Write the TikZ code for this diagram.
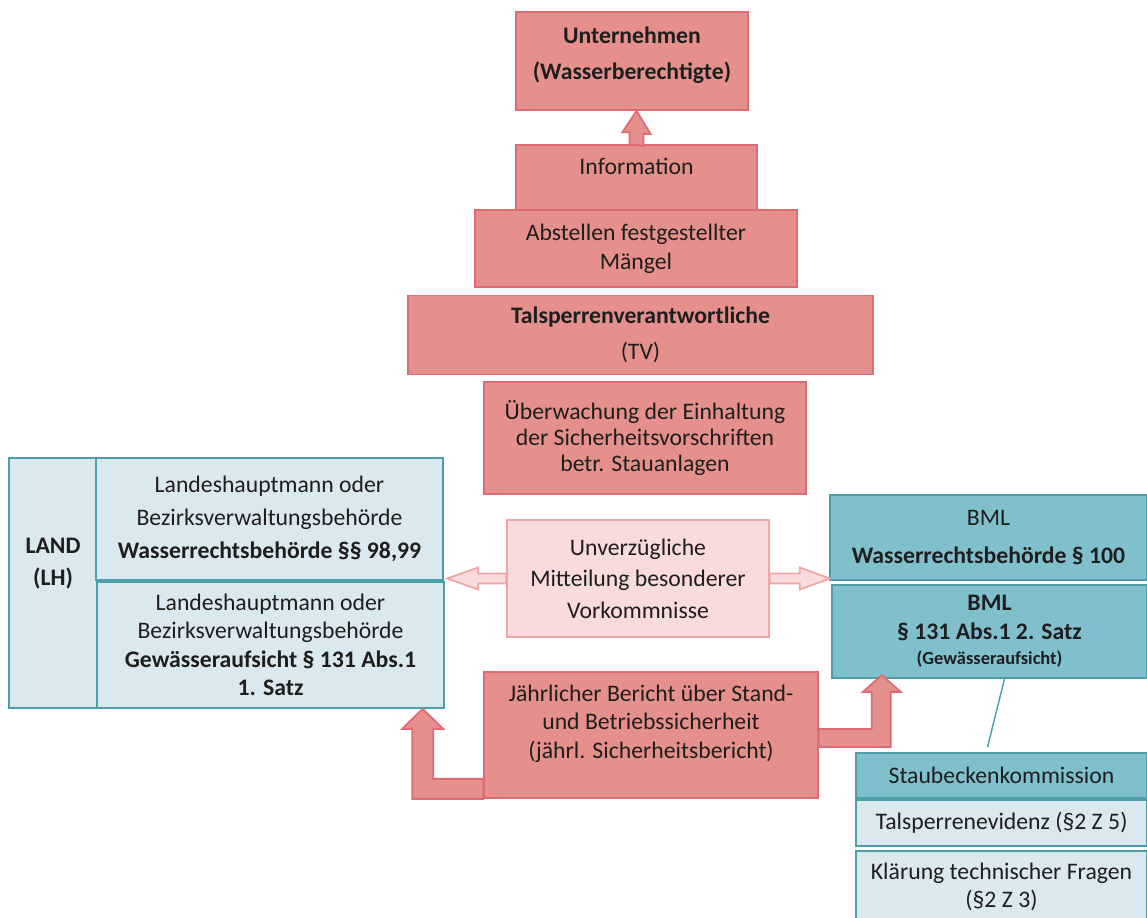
\documentclass[tikz,border=0pt]{standalone}
\usepackage{fontspec}
\setmainfont{Carlito}
\usetikzlibrary{calc}
\definecolor{redfill}{HTML}{E5908C}
\definecolor{redline}{HTML}{DE6B73}
\definecolor{pinkfill}{HTML}{F8DBDA}
\definecolor{pinkline}{HTML}{F0A5A6}
\definecolor{bluefill}{HTML}{DAE8EF}
\definecolor{tealfill}{HTML}{80C0CC}
\definecolor{tealline}{HTML}{4C9EAA}
\definecolor{txt}{HTML}{1E1E1E}

\begin{document}
\begin{tikzpicture}[x=0.02cm,y=-0.02cm,
  box/.style={draw,rectangle,align=center,inner sep=2pt,text=txt,line width=1pt},
  redbox/.style={box,fill=redfill,draw=redline},
  pinkbox/.style={box,fill=pinkfill,draw=pinkline},
  bluebox/.style={box,fill=bluefill,draw=tealline},
  tealbox/.style={box,fill=tealfill,draw=tealline},
  lead/.style={font=\fontsize{13.5}{#1}\selectfont},
  blockarrow/.style={fill=redfill,draw=redline,line width=1pt,line join=miter}]
\useasboundingbox[fill=white] (0,0) rectangle (1147,917);
% company side (top)
\node[redbox,lead=15,minimum width=4.82cm,minimum height=1.32cm,text depth=0.45cm](info) at (636.5,178){Information};
\node[redbox,lead=20.5,minimum width=4.64cm,minimum height=1.96cm,text depth=0.3cm](unt) at (632,61){\textbf{Unternehmen}\\\textbf{(Wasserberechtigte)}};
\filldraw[blockarrow](info.north) ++(-7,0) -- ++(0,-12) -- ++(-7,0) -- (info.north |- unt.south) -- ++(14,23) -- ++(-7,0) -- ++(0,12) -- cycle;
\node[redbox,lead=16.4,minimum width=6.44cm,minimum height=1.54cm](abst) at (636,248.5){Abstellen festgestellter\\Mängel};
\node[redbox,lead=20.4,minimum width=9.3cm,minimum height=1.58cm](tv) at (640.5,335){\textbf{Talsperrenverantwortliche}\\(TV)};
\node[redbox,lead=14.7,minimum width=6.44cm,minimum height=2.24cm](ueb) at (645,438){Überwachung der Einhaltung\\der Sicherheitsvorschriften\\betr. Stauanlagen};
% Land
\node[bluebox,lead=18,minimum width=1.76cm,minimum height=5cm,text depth=0.85cm](land) at (53,583){\textbf{LAND}\\\textbf{(LH)}};
\node[bluebox,lead=18.7,minimum width=6.94cm,minimum height=2.44cm](lhw) at (269.5,519){Landeshauptmann oder\\Bezirksverwaltungsbehörde\\\textbf{Wasserrechtsbehörde §§ 98,99}};
\node[bluebox,lead=16.2,minimum width=6.94cm,minimum height=2.52cm](lhg) at (270.5,645){Landeshauptmann oder\\Bezirksverwaltungsbehörde\\\textbf{Gewässeraufsicht § 131 Abs.1}\\\textbf{1. Satz}};
% Bund
\node[tealbox,lead=21.5,minimum width=6.34cm,minimum height=1.7cm](bmlw) at (988.5,537.5){BML\\\textbf{Wasserrechtsbehörde § 100}};
\node[tealbox,lead=16.4,minimum width=6.3cm,minimum height=1.86cm](bmlg) at (989.5,631.5){\textbf{BML}\\\textbf{§ 131 Abs.1 2. Satz}\\[-2pt]{\fontsize{10.5}{12}\selectfont\textbf{(Gewässeraufsicht)}}};
% Mitteilung
\node[pinkbox,lead=17.9,minimum width=5.24cm,minimum height=2.34cm](unv) at (638,578.5){Unverzügliche\\Mitteilung besonderer\\Vorkommnisse};
\filldraw[fill=pinkfill,draw=pinkline,line width=1pt](unv.west) ++(0,-5) -- ++(-28,0) -- ++(0,-6) -- ++(-31,11) -- ++(31,11) -- ++(0,-6) -- ++(28,0) -- cycle;
\filldraw[fill=pinkfill,draw=pinkline,line width=1pt](unv.east) ++(0,-5) -- ++(30,0) -- ++(0,-6) -- ++(30,11) -- ++(-30,11) -- ++(0,-6) -- ++(-30,0) -- cycle;
% Bericht
\node[redbox,lead=16,minimum width=6.68cm,minimum height=2.52cm,text depth=0.53cm](jb) at (651,735){Jährlicher Bericht über Stand-\\und Betriebssicherheit\\(jährl. Sicherheitsbericht)};
\filldraw[blockarrow](jb.south west) -- ++(-71,0) -- ++(0,-70) -- ++(-10,0) -- ++(20.5,-20) -- ++(20.5,20) -- ++(-10,0) -- ++(0,50) -- ++(50,0) -- cycle;
\filldraw[blockarrow](jb.east) ++(0,12) -- ++(72,0) -- ++(0,-55) -- ++(10,0) -- ++(-19,-17) -- ++(-19,17) -- ++(9,0) -- ++(0,37) -- ++(-53,0) -- cycle;
% Staubeckenkommission
\node[tealbox,lead=15,minimum width=5.82cm,minimum height=0.9cm](stau) at (1001.5,775.5){Staubeckenkommission};
\node[bluebox,lead=15,minimum width=5.82cm,minimum height=0.92cm](tse) at (1001.5,823){Talsperrenevidenz (§2 Z 5)};
\node[bluebox,lead=16,minimum width=5.82cm,minimum height=1.44cm](klae) at (1001.5,887){Klärung technischer Fragen\\(§2 Z 3)};
\draw[tealline,line width=0.8pt]($(bmlg.south)+(15,0)$) -- ($(stau.north)+(-14,-5)$);
\end{tikzpicture}
\end{document}
